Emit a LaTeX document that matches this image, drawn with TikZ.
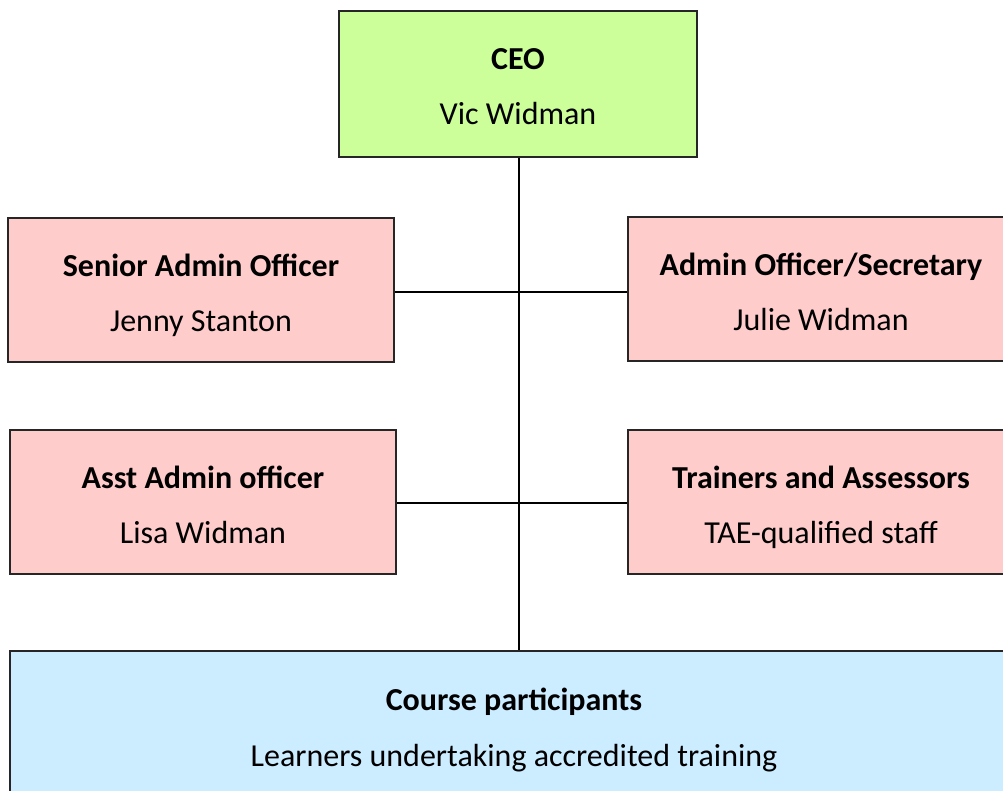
\documentclass[tikz,border=0pt]{standalone}
\usepackage{fontspec}
\setmainfont{Carlito}
\definecolor{ceogreen}{HTML}{CCFF99}
\definecolor{staffpink}{HTML}{FFCCCC}
\definecolor{learnblue}{HTML}{CCECFF}
\begin{document}
\begin{tikzpicture}[x=0.75pt,y=-0.75pt,
  box/.style={draw=black!85,line width=1.4pt,minimum width=#1*0.75pt,minimum height=108pt,inner sep=0pt},
  ttl/.style={anchor=base,font=\fontsize{24}{29}\selectfont\bfseries,inner sep=0pt},
  nme/.style={anchor=base,font=\fontsize{24}{29}\selectfont,inner sep=0pt},
  conn/.style={line width=1.4pt,black}]
\useasboundingbox (0,0) rectangle (1003,790);
\node[box=358,fill=ceogreen,minimum height=109.5pt] (ceo) at (518,84) {};
\node[box=386,fill=staffpink] (sao) at (201,290) {};
\node[box=386,fill=staffpink] (aos) at (821,289) {};
\node[box=386,fill=staffpink] (aao) at (203,502) {};
\node[box=386,fill=staffpink] (tas) at (821,502) {};
\node[box=1017,fill=learnblue] (cp) at (518.5,723) {};
\node[ttl] (ceot) at (518,69) {CEO};
\node[nme] (ceon) at (518,124) {Vic Widman};
\node[ttl] (saot) at (201,276) {Senior Admin Officer};
\node[nme] (saon) at (201,331) {Jenny Stanton};
\node[ttl] (aost) at (821,275) {Admin Officer/Secretary};
\node[nme] (aosn) at (821,330) {Julie Widman};
\node[ttl] (aaot) at (203,488) {Asst Admin officer};
\node[nme] (aaon) at (203,543) {Lisa Widman};
\node[ttl] (tast) at (821,488) {Trainers and Assessors};
\node[nme] (tasn) at (821,543) {TAE-qualified staff};
\node[ttl] (cpt) at (514,710) {Course participants};
\node[nme] (cpn) at (514,766) {Learners undertaking accredited training};
\coordinate (top) at (519,0);
\draw[conn] (ceo.south -| top) -- (cp.north -| top);
\draw[conn] (sao.east |- 0,292) -- (aos.west |- 0,292);
\draw[conn] (aao.east |- 0,503) -- (tas.west |- 0,503);
\end{tikzpicture}
\end{document}
